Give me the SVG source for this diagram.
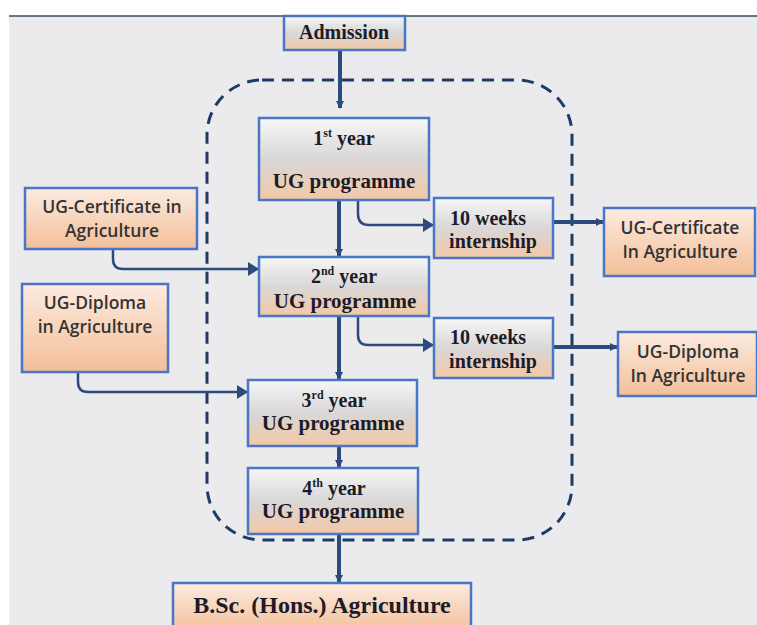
<svg xmlns="http://www.w3.org/2000/svg" width="757" height="625" viewBox="0 0 757 625">
<defs>
<linearGradient id="gy" x1="0" y1="0" x2="0" y2="1">
<stop offset="0" stop-color="#f7f7f7"/>
<stop offset="0.5" stop-color="#d9d7d7"/>
<stop offset="1" stop-color="#f3c8a6"/>
</linearGradient>
<linearGradient id="gp" x1="0" y1="0" x2="0" y2="1">
<stop offset="0" stop-color="#fcebe0"/>
<stop offset="1" stop-color="#f3bf98"/>
</linearGradient>
<marker id="ah" markerWidth="10" markerHeight="10" refX="7" refY="5" orient="auto" markerUnits="userSpaceOnUse">
<path d="M0,1 L8,5 L0,9 z" fill="#2c4a7c"/>
</marker>
<marker id="ahs" markerWidth="12" markerHeight="14" refX="10" refY="7" orient="auto" markerUnits="userSpaceOnUse">
<path d="M0,0 L11,7 L0,14 z" fill="#2c4a7c"/>
</marker>
</defs>
<style>
.bx{stroke:#4a76c6;stroke-width:2.5}
.yr{fill:url(#gy)}
.pc{fill:url(#gp)}
.s{font-family:"Liberation Serif","Times New Roman",serif;font-weight:bold;fill:#1c1c28;text-anchor:middle}
.a{font-family:"Open Sans","Liberation Sans",sans-serif;font-weight:600;fill:#333;text-anchor:middle;font-size:17.5px}
.c{fill:none;stroke:#2c4a7c;stroke-width:4}
.ct{fill:none;stroke:#2c4a7c;stroke-width:2.5}
</style>
<rect x="0" y="0" width="757" height="625" fill="#ffffff"/>
<rect x="9" y="16" width="748" height="609" fill="#ebebed"/>
<line x1="9" y1="16" x2="757" y2="16" stroke="#3a4a5a" stroke-width="1.5"/>
<rect id="boundary" x="207" y="80" width="365" height="460" rx="55" ry="55" fill="none" stroke="#203a66" stroke-width="3" stroke-dasharray="12,8"/>

<g id="connectors">
<line class="c" x1="340" y1="50" x2="340" y2="108" marker-end="url(#ah)"/>
<line class="c" x1="339" y1="200" x2="339" y2="256" marker-end="url(#ah)"/>
<path class="ct" d="M358,200 V214 Q358,225 369,225 H433" marker-end="url(#ahs)"/>
<line class="c" x1="548" y1="222" x2="603" y2="222" marker-end="url(#ah)"/>
<path class="ct" d="M113,249 V259 Q113,269 123,269 H258" marker-end="url(#ahs)"/>
<line class="c" x1="339" y1="316" x2="339" y2="379" marker-end="url(#ah)"/>
<path class="ct" d="M358,316 V335 Q358,345 368,345 H433" marker-end="url(#ahs)"/>
<line class="c" x1="550" y1="347" x2="617" y2="347" marker-end="url(#ah)"/>
<path class="ct" d="M78,372 V382 Q78,392 88,392 H247" marker-end="url(#ahs)"/>
<line class="c" x1="339" y1="446" x2="339" y2="467" marker-end="url(#ah)"/>
<line class="c" x1="339" y1="534" x2="339" y2="582" marker-end="url(#ah)"/>
</g>

<g id="admission">
<rect class="bx yr" x="284" y="16" width="121" height="34"/>
<text class="s" x="344" y="39" font-size="20">Admission</text>
</g>

<g id="year1">
<rect class="bx yr" x="259" y="118" width="170" height="82"/>
<text class="s" x="344" y="145" font-size="20">1<tspan font-size="12" dy="-8">st</tspan><tspan dy="8"> year</tspan></text>
<text class="s" x="344" y="188" font-size="21">UG programme</text>
</g>

<g id="intern1">
<rect class="bx yr" x="434" y="198" width="119" height="60"/>
<text class="s" x="488" y="225" font-size="20">10 weeks</text>
<text class="s" x="493" y="248" font-size="20">internship</text>
</g>

<g id="certRight">
<rect class="bx pc" x="604" y="208" width="151" height="68"/>
<text class="a" x="680" y="234">UG-Certificate</text>
<text class="a" x="680" y="258">In Agriculture</text>
</g>

<g id="certLeft">
<rect class="bx pc" x="25" y="188" width="172" height="61"/>
<text class="a" x="112" y="213">UG-Certificate in</text>
<text class="a" x="112" y="237">Agriculture</text>
</g>

<g id="year2">
<rect class="bx yr" x="259" y="257" width="170" height="59"/>
<text class="s" x="344" y="283" font-size="20">2<tspan font-size="12" dy="-8">nd</tspan><tspan dy="8"> year</tspan></text>
<text class="s" x="345" y="308" font-size="21">UG programme</text>
</g>

<g id="diplomaLeft">
<rect class="bx pc" x="22" y="284" width="146" height="88"/>
<text class="a" x="95" y="309">UG-Diploma</text>
<text class="a" x="95" y="333">in Agriculture</text>
</g>

<g id="intern2">
<rect class="bx yr" x="434" y="318" width="119" height="60"/>
<text class="s" x="488" y="344" font-size="20">10 weeks</text>
<text class="s" x="493" y="368" font-size="20">internship</text>
</g>

<g id="diplomaRight">
<rect class="bx pc" x="618" y="332" width="139" height="64"/>
<text class="a" x="688" y="358">UG-Diploma</text>
<text class="a" x="688" y="382">In Agriculture</text>
</g>

<g id="year3">
<rect class="bx yr" x="248" y="380" width="169" height="66"/>
<text class="s" x="334" y="407" font-size="20">3<tspan font-size="12" dy="-8">rd</tspan><tspan dy="8"> year</tspan></text>
<text class="s" x="333" y="430" font-size="21">UG programme</text>
</g>

<g id="year4">
<rect class="bx yr" x="248" y="468" width="170" height="66"/>
<text class="s" x="334" y="495" font-size="20">4<tspan font-size="12" dy="-8">th</tspan><tspan dy="8"> year</tspan></text>
<text class="s" x="333" y="518" font-size="21">UG programme</text>
</g>

<g id="bsc">
<rect class="bx pc" x="173" y="583" width="298" height="50"/>
<text class="s" x="322" y="613" font-size="24">B.Sc. (Hons.) Agriculture</text>
</g>
</svg>
